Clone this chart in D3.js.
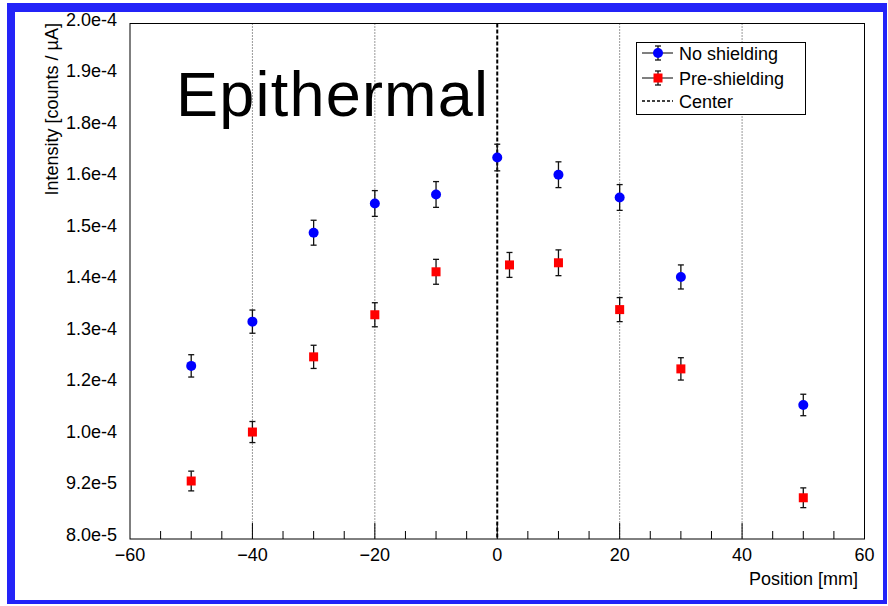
<!DOCTYPE html>
<html>
<head>
<meta charset="utf-8">
<script src="https://cdn.jsdelivr.net/npm/d3@7"></script>
<style>
  html, body { margin: 0; padding: 0; background: #fff; }
  svg { display: block; font-family: "Liberation Sans", Arial, Helvetica, sans-serif; }
</style>
</head>
<body>
<div id="viz"></div>
<script>
const WIDTH = 888;
const HEIGHT = 606;
const FRAME = { left: 130, right: 864.5, top: 23.5, bottom: 539 };

// measured positions in mm
const positions = [-50, -40, -30, -20, -10, 0, 10, 20, 30, 50];
const prePositions = [-50, -40, -30, -20, -10, 2, 10, 20, 30, 50];

// intensity [counts / uA]
const noShielding = [1.203e-4, 1.306e-4, 1.513e-4, 1.581e-4, 1.602e-4, 1.688e-4, 1.648e-4, 1.595e-4, 1.410e-4, 1.112e-4];
const noShieldingErr = [2.6e-6, 2.7e-6, 2.9e-6, 3.0e-6, 3.0e-6, 3.1e-6, 3.0e-6, 3.0e-6, 2.8e-6, 2.5e-6];
const preShielding = [9.35e-5, 1.049e-4, 1.224e-4, 1.322e-4, 1.422e-4, 1.438e-4, 1.443e-4, 1.334e-4, 1.196e-4, 8.96e-5];
const preShieldingErr = [2.3e-6, 2.45e-6, 2.7e-6, 2.8e-6, 2.9e-6, 2.9e-6, 3.0e-6, 2.8e-6, 2.6e-6, 2.3e-6];

const xTicks = [-60, -40, -20, 0, 20, 40, 60];
const gridPositions = [-40, -20, 20, 40];
const yDomain = [8.0e-5, 2.0e-4];
const yTickCount = 10;

const legendItems = ["No shielding", "Pre-shielding", "Center"];

const svg = d3.select("#viz").append("svg")
  .attr("width", WIDTH)
  .attr("height", HEIGHT);

const x = d3.scaleLinear().domain([-60, 60]).range([FRAME.left, FRAME.right]);
const y = d3.scaleLinear().domain(yDomain).range([FRAME.bottom, FRAME.top]);

// blue page border
const BORDER = "#2323f8";
svg.append("rect").attr("x", 7).attr("y", 3).attr("width", 8).attr("height", 601).attr("fill", BORDER);
svg.append("rect").attr("x", 7).attr("y", 3).attr("width", 880).attr("height", 9).attr("fill", BORDER);
svg.append("rect").attr("x", 883).attr("y", 3).attr("width", 4).attr("height", 601).attr("fill", BORDER);
svg.append("rect").attr("x", 7).attr("y", 600).attr("width", 880).attr("height", 4).attr("fill", BORDER);

// dotted grid at major x ticks
svg.append("g").selectAll("line")
  .data(gridPositions)
  .join("line")
  .attr("x1", d => x(d)).attr("x2", d => x(d))
  .attr("y1", FRAME.top).attr("y2", FRAME.bottom)
  .attr("stroke", "#333")
  .attr("stroke-width", 1)
  .attr("stroke-dasharray", "1,2");

// center line
svg.append("line")
  .attr("x1", x(0)).attr("x2", x(0))
  .attr("y1", FRAME.top).attr("y2", FRAME.bottom)
  .attr("stroke", "#000")
  .attr("stroke-width", 2)
  .attr("stroke-dasharray", "4,2");

// frame
svg.append("rect")
  .attr("x", FRAME.left).attr("y", FRAME.top)
  .attr("width", FRAME.right - FRAME.left)
  .attr("height", FRAME.bottom - FRAME.top)
  .attr("fill", "none")
  .attr("stroke", "#000")
  .attr("stroke-width", 1);

// x axis: major ticks + minor ticks every 5 mm, pointing inward
const xMinor = d3.range(-55, 60, 5).filter(d => d % 20 !== 0);
svg.append("g").selectAll("line")
  .data(xMinor)
  .join("line")
  .attr("x1", d => x(d)).attr("x2", d => x(d))
  .attr("y1", FRAME.bottom).attr("y2", FRAME.bottom - 8)
  .attr("stroke", "#000");
svg.append("g").selectAll("line")
  .data(xTicks.filter(d => d > -60 && d < 60))
  .join("line")
  .attr("x1", d => x(d)).attr("x2", d => x(d))
  .attr("y1", FRAME.bottom).attr("y2", FRAME.bottom - 16)
  .attr("stroke", "#000");

const fmtX = d3.format("d");
svg.append("g").selectAll("text")
  .data(xTicks)
  .join("text")
  .attr("x", d => x(d))
  .attr("y", 561)
  .attr("text-anchor", "middle")
  .attr("font-size", 18)
  .attr("fill", "#000")
  .text(d => fmtX(d));

svg.append("text")
  .attr("x", 858).attr("y", 585)
  .attr("text-anchor", "end")
  .attr("font-size", 18)
  .text("Position [mm]");

// y axis labels: 10 equal divisions, rounded to 2 significant digits
const yStep = (yDomain[1] - yDomain[0]) / yTickCount;
const yTicks = d3.range(yTickCount + 1).map(i => yDomain[0] + i * yStep);
const fmtY = d => d.toExponential(1);
svg.append("g").selectAll("text")
  .data(yTicks)
  .join("text")
  .attr("x", 117)
  .attr("y", d => y(d) + 2)
  .attr("text-anchor", "end")
  .attr("font-size", 18)
  .text(d => fmtY(d));

svg.append("text")
  .attr("transform", "translate(58,23) rotate(-90)")
  .attr("text-anchor", "end")
  .attr("font-size", 18)
  .text("Intensity [counts / \u00b5A]");

// big label
svg.append("text")
  .attr("x", 176).attr("y", 116)
  .attr("font-size", 63)
  .attr("textLength", 312)
  .attr("lengthAdjust", "spacing")
  .text("Epithermal");

function drawSeries(xs, ys, errs, shape, color) {
  const g = svg.append("g");
  const pts = xs.map((d, i) => ({ x: d, y: ys[i], e: errs[i] }));
  g.selectAll("line.bar")
    .data(pts)
    .join("line")
    .attr("class", "bar")
    .attr("x1", d => x(d.x)).attr("x2", d => x(d.x))
    .attr("y1", d => y(d.y + d.e)).attr("y2", d => y(d.y - d.e))
    .attr("stroke", "#111").attr("stroke-width", 1.3);
  [1, -1].forEach(s => {
    g.selectAll(null)
      .data(pts)
      .join("line")
      .attr("x1", d => x(d.x) - 3).attr("x2", d => x(d.x) + 3)
      .attr("y1", d => y(d.y + s * d.e)).attr("y2", d => y(d.y + s * d.e))
      .attr("stroke", "#111").attr("stroke-width", 1.3);
  });
  if (shape === "circle") {
    g.selectAll("circle")
      .data(pts)
      .join("circle")
      .attr("cx", d => x(d.x)).attr("cy", d => y(d.y))
      .attr("r", 5)
      .attr("fill", color);
  } else {
    g.selectAll("rect")
      .data(pts)
      .join("rect")
      .attr("x", d => x(d.x) - 4.5).attr("y", d => y(d.y) - 4.5)
      .attr("width", 9).attr("height", 9)
      .attr("fill", color);
  }
}

drawSeries(positions, noShielding, noShieldingErr, "circle", "#0000ff");
drawSeries(prePositions, preShielding, preShieldingErr, "square", "#ff0000");

// legend
const legend = svg.append("g");
legend.append("rect")
  .attr("x", 636.5).attr("y", 42.5)
  .attr("width", 169).attr("height", 72)
  .attr("fill", "#fff").attr("stroke", "#000");

const rowY = [53, 78, 101];
legendItems.forEach((label, i) => {
  const cy = rowY[i];
  if (i < 2) {
    legend.append("line")
      .attr("x1", 642).attr("x2", 673).attr("y1", cy).attr("y2", cy)
      .attr("stroke", "#000");
    legend.append("line")
      .attr("x1", 658).attr("x2", 658).attr("y1", cy - 7).attr("y2", cy + 7)
      .attr("stroke", "#111").attr("stroke-width", 1.3);
    [-7, 7].forEach(dy => legend.append("line")
      .attr("x1", 655).attr("x2", 661).attr("y1", cy + dy).attr("y2", cy + dy)
      .attr("stroke", "#111").attr("stroke-width", 1.3));
    if (i === 0) {
      legend.append("circle").attr("cx", 658).attr("cy", cy).attr("r", 5).attr("fill", "#0000ff");
    } else {
      legend.append("rect").attr("x", 653.5).attr("y", cy - 4.5)
        .attr("width", 9).attr("height", 9).attr("fill", "#ff0000");
    }
  } else {
    legend.append("line")
      .attr("x1", 642).attr("x2", 673).attr("y1", cy).attr("y2", cy)
      .attr("stroke", "#000").attr("stroke-width", 1.5)
      .attr("stroke-dasharray", "3,2");
  }
  legend.append("text")
    .attr("x", 679).attr("y", cy + 6.5)
    .attr("font-size", 18)
    .text(label);
});
</script>
</body>
</html>
